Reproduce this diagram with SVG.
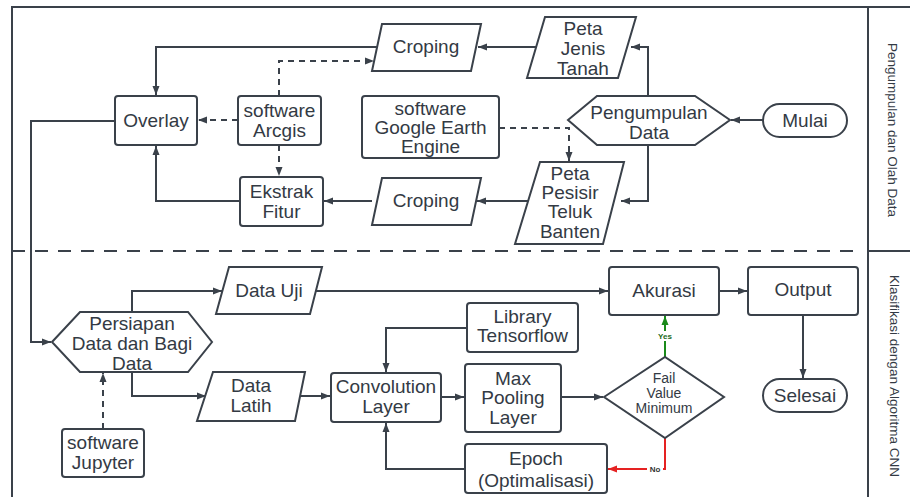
<svg xmlns="http://www.w3.org/2000/svg" width="910" height="497" viewBox="0 0 910 497">
<defs>
<style>
.s{fill:#fff;stroke:#3a414a;stroke-width:2}
.t{font-family:"Liberation Sans",Arial,sans-serif;font-size:19px;fill:#333a44;text-anchor:middle}
.d{font-size:14px}
.c{fill:none;stroke:#3a414a;stroke-width:2}
.dash{stroke-dasharray:6 5}
.lane{font-family:"Liberation Sans",Arial,sans-serif;font-size:13.5px;fill:#333a44;text-anchor:middle}
.lbl{font-family:"Liberation Sans",Arial,sans-serif;font-size:8px;font-weight:bold;text-anchor:middle}
</style>
<marker id="a" markerWidth="10" markerHeight="8" refX="9" refY="4" orient="auto" markerUnits="userSpaceOnUse"><path d="M0,0.5 L9,4 L0,7.5 Z" fill="#3a414a"/></marker>
<marker id="ag" markerWidth="10" markerHeight="8" refX="9" refY="4" orient="auto" markerUnits="userSpaceOnUse"><path d="M0,0.5 L9,4 L0,7.5 Z" fill="#1a8a1a"/></marker>
<marker id="ar" markerWidth="10" markerHeight="8" refX="9" refY="4" orient="auto" markerUnits="userSpaceOnUse"><path d="M0,0.5 L9,4 L0,7.5 Z" fill="#e52222"/></marker>
</defs>
<rect width="910" height="497" fill="#fff"/>
<g id="frame" fill="none" stroke="#3a414a" stroke-width="2">
<path d="M12,497 V7 H910"/>
<path d="M868,7 V497"/>
<path d="M868,251 H910"/>
<path d="M12,251 H856" stroke-dasharray="13 10"/>
</g>
<g id="lanes">
<text class="lane" transform="translate(888,130) rotate(90)">Pengumpulan dan Olah Data</text>
<text class="lane" transform="translate(890,376) rotate(90)">Klasifikasi dengan Algoritma CNN</text>
</g>
<g id="connectors">
<path class="c" d="M382,47 H156 V95" marker-end="url(#a)"/>
<path class="c dash" d="M279,96 V61 H374" marker-end="url(#a)"/>
<path class="c dash" d="M238,120 H198" marker-end="url(#a)"/>
<path class="c dash" d="M279,145 V176" marker-end="url(#a)"/>
<path class="c" d="M240,201 H156 V146" marker-end="url(#a)"/>
<path class="c" d="M536,47 H478" marker-end="url(#a)"/>
<path class="c" d="M648,96 V47 H631" marker-end="url(#a)"/>
<path class="c" d="M763,120 H731" marker-end="url(#a)"/>
<path class="c" d="M648,145 V201 H621" marker-end="url(#a)"/>
<path class="c dash" d="M499,128 H569 V161" marker-end="url(#a)"/>
<path class="c" d="M528,201 H477" marker-end="url(#a)"/>
<path class="c" d="M372,201 H324" marker-end="url(#a)"/>
<path class="c" d="M115,121 H31 V342 H51" marker-end="url(#a)"/>
<path class="c" d="M132,312 V291 H222" marker-end="url(#a)"/>
<path class="c" d="M316,291 H608" marker-end="url(#a)"/>
<path class="c" d="M719,291 H747" marker-end="url(#a)"/>
<path class="c" d="M803,315 V378" marker-end="url(#a)"/>
<path class="c" d="M132,372 V396 H206" marker-end="url(#a)"/>
<path class="c dash" d="M103,429 V373" marker-end="url(#a)"/>
<path class="c" d="M300,396 H330" marker-end="url(#a)"/>
<path class="c" d="M467,328 H386 V372" marker-end="url(#a)"/>
<path class="c" d="M441,397 H464" marker-end="url(#a)"/>
<path class="c" d="M561,397 H603" marker-end="url(#a)"/>
<path class="c" d="M465,469 H386 V423" marker-end="url(#a)"/>
<path d="M665,357 V316" fill="none" stroke="#1a8a1a" stroke-width="2" marker-end="url(#ag)"/>
<path d="M665,438 V469 H608" fill="none" stroke="#e52222" stroke-width="2" marker-end="url(#ar)"/>
<rect x="656" y="331" width="18" height="10" fill="#fff"/>
<text class="lbl" x="665" y="339" fill="#1a6a1a">Yes</text>
<rect x="647" y="464" width="16" height="10" fill="#fff"/>
<text class="lbl" x="655" y="472" fill="#333">No</text>
</g>
<g id="overlay"><rect class="s" x="115" y="96" width="82" height="49" rx="3"/><text class="t" x="156" y="127">Overlay</text></g>
<g id="arcgis"><rect class="s" x="238" y="96" width="83" height="49" rx="3"/><text class="t" x="279.5" y="117">software</text><text class="t" x="279.5" y="137">Arcgis</text></g>
<g id="ekstrak"><rect class="s" x="240" y="177" width="83" height="49" rx="3"/><text class="t" x="281.5" y="198">Ekstrak</text><text class="t" x="281.5" y="218">Fitur</text></g>
<g id="croping1"><polygon class="s" points="382,24 481,24 471,71 372,71"/><text class="t" x="426" y="53">Croping</text></g>
<g id="petajenis"><polygon class="s" points="545,17 636,17 618,78 527,78"/><text class="t" x="583" y="35">Peta</text><text class="t" x="583" y="55">Jenis</text><text class="t" x="583" y="75">Tanah</text></g>
<g id="pengumpulan"><polygon class="s" points="568,120 597,96 695,96 730,120 695,145 597,145"/><text class="t" x="649" y="119">Pengumpulan</text><text class="t" x="649" y="139">Data</text></g>
<g id="mulai"><rect class="s" x="763" y="104" width="84" height="33" rx="16.5"/><text class="t" x="805" y="127">Mulai</text></g>
<g id="gee"><rect class="s" x="362" y="96" width="137" height="62" rx="3"/><text class="t" x="430.5" y="115">software</text><text class="t" x="430.5" y="134">Google Earth</text><text class="t" x="430.5" y="153">Engine</text></g>
<g id="petapesisir"><polygon class="s" points="540,162 624,162 603,244 515,244"/><text class="t" x="570" y="180">Peta</text><text class="t" x="570" y="199">Pesisir</text><text class="t" x="570" y="218">Teluk</text><text class="t" x="570" y="238">Banten</text></g>
<g id="croping2"><polygon class="s" points="382,178 481,178 471,225 372,225"/><text class="t" x="426" y="207">Croping</text></g>
<g id="persiapan"><polygon class="s" points="52,342 80,312 188,312 212,342 188,372 80,372"/><text class="t" x="132" y="330">Persiapan</text><text class="t" x="132" y="350">Data dan Bagi</text><text class="t" x="132" y="370">Data</text></g>
<g id="datauji"><polygon class="s" points="229,267 322,267 310,314 216,314"/><text class="t" x="269" y="297">Data Uji</text></g>
<g id="akurasi"><rect class="s" x="609" y="267" width="110" height="48" rx="3"/><text class="t" x="664" y="297">Akurasi</text></g>
<g id="output"><rect class="s" x="748" y="267" width="110" height="48" rx="3"/><text class="t" x="803" y="296">Output</text></g>
<g id="selesai"><rect class="s" x="763" y="379" width="84" height="33" rx="16.5"/><text class="t" x="805" y="402">Selesai</text></g>
<g id="datalatih"><polygon class="s" points="213,372 305,372 295,421 197,421"/><text class="t" x="251" y="392">Data</text><text class="t" x="251" y="412">Latih</text></g>
<g id="convolution"><rect class="s" x="331" y="373" width="110" height="49" rx="3"/><text class="t" x="386" y="393">Convolution</text><text class="t" x="386" y="413">Layer</text></g>
<g id="tensorflow"><rect class="s" x="467" y="303" width="111" height="49" rx="3"/><text class="t" x="522.5" y="323">Library</text><text class="t" x="522.5" y="342">Tensorflow</text></g>
<g id="maxpooling"><rect class="s" x="465" y="364" width="96" height="68" rx="3"/><text class="t" x="513" y="385">Max</text><text class="t" x="513" y="404">Pooling</text><text class="t" x="513" y="424">Layer</text></g>
<g id="decision"><polygon class="s" points="604,397 665,357 724,397 665,438"/><text class="t d" x="664" y="383">Fail</text><text class="t d" x="664" y="398">Value</text><text class="t d" x="664" y="413">Minimum</text></g>
<g id="epoch"><rect class="s" x="465" y="444" width="142" height="49" rx="3"/><text class="t" x="536" y="465">Epoch</text><text class="t" x="536" y="487">(Optimalisasi)</text></g>
<g id="jupyter"><rect class="s" x="62" y="429" width="82" height="48" rx="3"/><text class="t" x="103" y="449">software</text><text class="t" x="103" y="469">Jupyter</text></g>
</svg>
